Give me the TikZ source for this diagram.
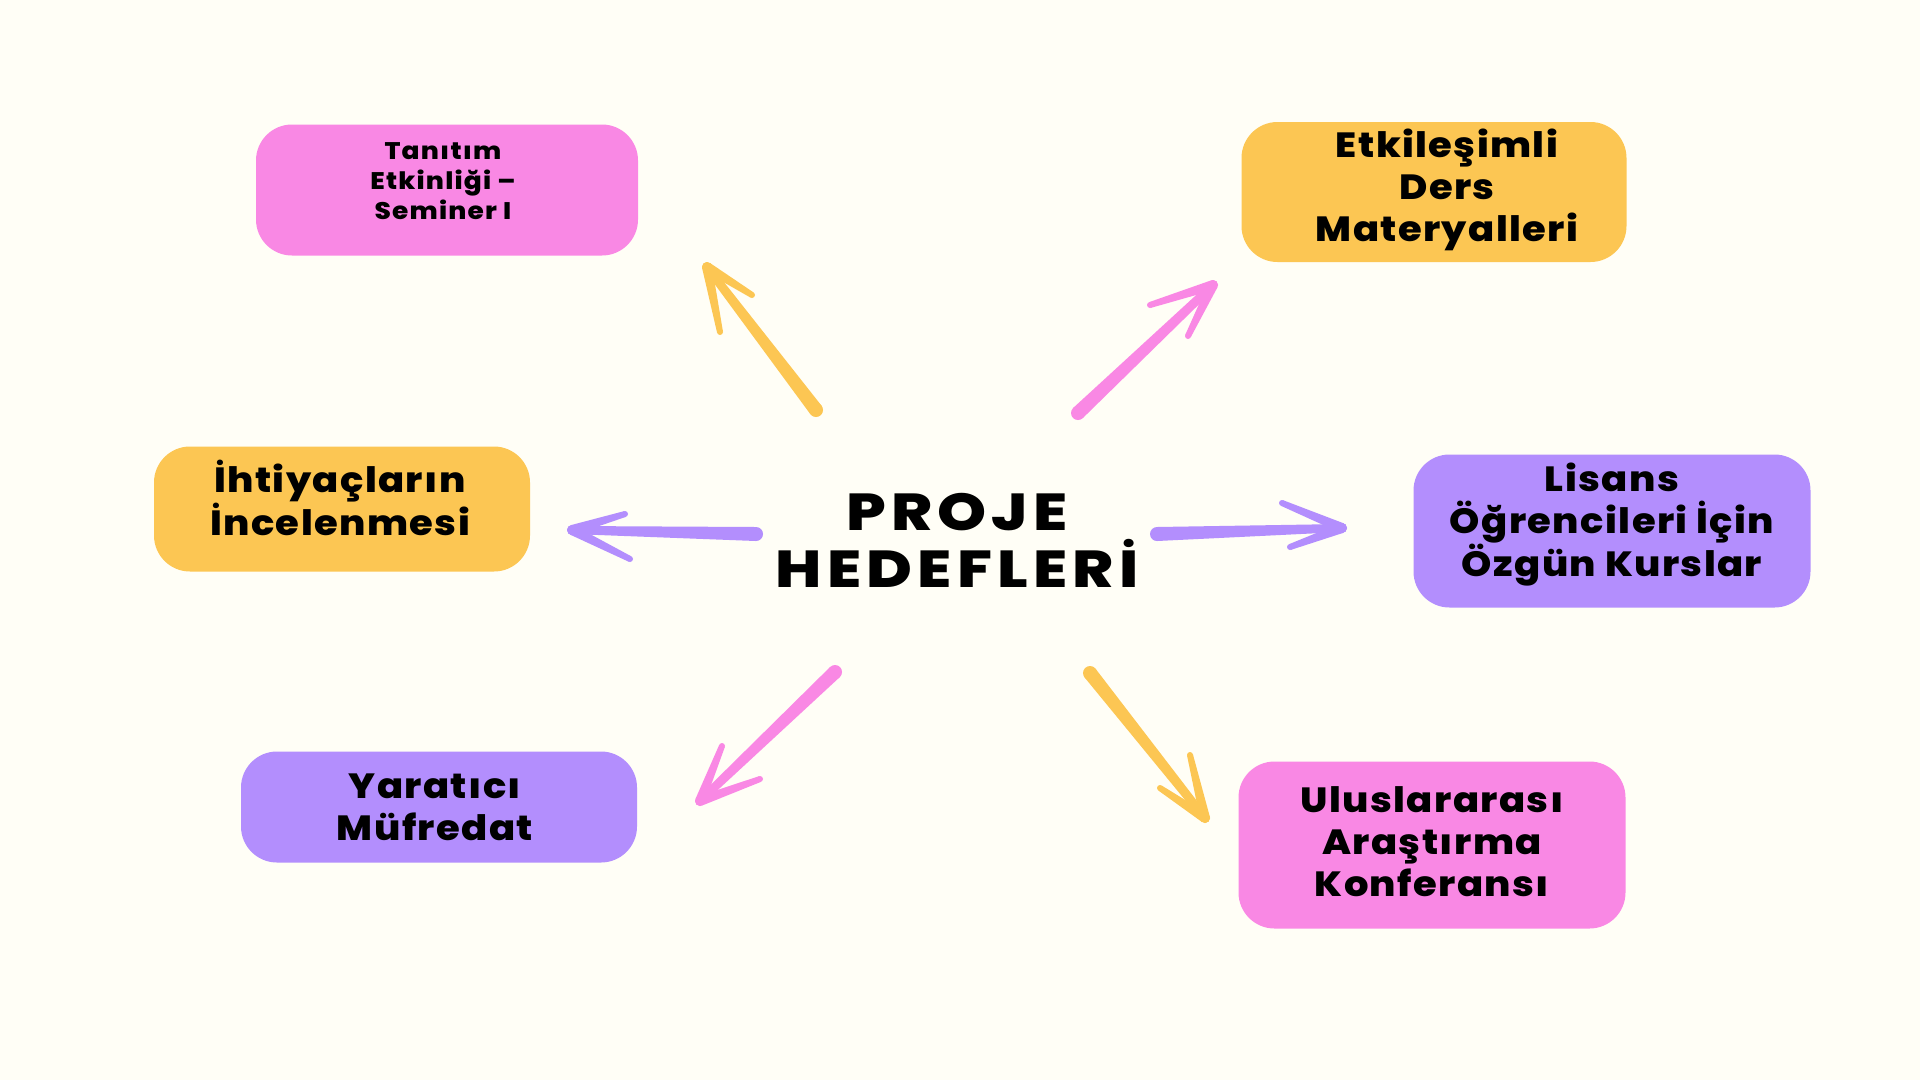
\documentclass[tikz,border=0pt]{standalone}
\usepackage{fontspec}
\setmainfont{Poppins}[BoldFont={Poppins ExtraBold}]
\usetikzlibrary{calc}

\definecolor{bgcream}{HTML}{FFFEF6}
\definecolor{goalpink}{HTML}{F988E4}
\definecolor{goalyellow}{HTML}{FCC653}
\definecolor{goalpurple}{HTML}{B38EFD}

% tapered hand drawn stroke: colour, start, end, start width, end width
\newcommand{\taperline}[5]{%
  \fill[#1] ($(#2)!#4!90:(#3)$) -- ($(#3)!#5!-90:(#2)$) -- ($(#3)!#5!90:(#2)$) -- ($(#2)!#4!-90:(#3)$) -- cycle;
  \fill[#1] (#2) circle (#4);
  \fill[#1] (#3) circle (#5);
}
% shaft plus two barbs
\newcommand{\sketcharrow}[5]{%
  \taperline{#1}{#2}{#3}{7pt}{4pt}
  \taperline{#1}{#3}{#4}{5pt}{3pt}
  \taperline{#1}{#3}{#5}{5pt}{3pt}
}

\tikzset{
  goal/.style={fill=#1, rounded corners=36pt, inner sep=0pt},
  goaltext/.style={align=center, inner sep=0pt,
    font=\bfseries\fontsize{35}{42}\selectfont\addfontfeatures{FakeStretch=1.1,LetterSpace=4}},
  hub/.style={align=center, inner sep=0pt,
    font=\bfseries\fontsize{52}{57}\selectfont\addfontfeatures{FakeStretch=1.2,LetterSpace=10}}
}

\begin{document}
\begin{tikzpicture}[x=1pt, y=-1pt]
\useasboundingbox (0,0) rectangle (1920,1080);
\fill[bgcream] (0,0) rectangle (1920,1080);

% centre
\node[hub] (hedef) at (957,540) {PROJE\\HEDEFLERİ};

% goal boxes
\node[goal=goalpink, minimum width=382pt, minimum height=131pt] (tanitim) at (447,190) {};
\node[goal=goalyellow, minimum width=385pt, minimum height=140pt] (ders) at (1434,192) {};
\node[goal=goalyellow, minimum width=376pt, minimum height=125pt] (ihtiyac) at (342,509) {};
\node[goal=goalpurple, minimum width=397pt, minimum height=153pt] (lisans) at (1612,531) {};
\node[goal=goalpurple, minimum width=396pt, minimum height=111pt] (mufredat) at (439,807) {};
\node[goal=goalpink, minimum width=387pt, minimum height=167pt] (konferans) at (1432,845) {};

% goal texts
\node[goaltext, font=\bfseries\fontsize{24}{30}\selectfont\addfontfeatures{FakeStretch=1.1,LetterSpace=5}]
  (tanitim-t) at ($(tanitim)+(-4,-9)$) {Tanıtım\\Etkinliği --\\Seminer I};
\node[goaltext] (ders-t) at ($(ders)+(13,-2)$) {Etkileşimli\\Ders\\Materyalleri};
\node[goaltext] (ihtiyac-t) at ($(ihtiyac)+(-2,-11)$) {İhtiyaçların\\İncelenmesi};
\node[goaltext] (lisans-t) at ($(lisans)+(0,-6)$) {Lisans\\Öğrencileri İçin\\Özgün Kurslar};
\node[goaltext] (mufredat-t) at ($(mufredat)+(-4,0)$) {Yaratıcı\\Müfredat};
\node[goaltext] (konferans-t) at ($(konferans)+(0,-3)$) {Uluslararası\\Araştırma\\Konferansı};

% arrow ends
\coordinate (ulT) at (816,410); \coordinate (ulH) at (707,267);
\coordinate (ulA) at (752,295); \coordinate (ulB) at (720,332);
\coordinate (urT) at (1078,413); \coordinate (urH) at (1213,285);
\coordinate (urA) at (1150,305); \coordinate (urB) at (1188,336);
\coordinate (lT) at (756,534); \coordinate (lH) at (572,530);
\coordinate (lA) at (625,514); \coordinate (lB) at (630,559);
\coordinate (rT) at (1157,534); \coordinate (rH) at (1342,528);
\coordinate (rA) at (1282,503); \coordinate (rB) at (1290,547);
\coordinate (dlT) at (835,672); \coordinate (dlH) at (700,801);
\coordinate (dlA) at (722,746); \coordinate (dlB) at (760,779);
\coordinate (drT) at (1090,673); \coordinate (drH) at (1205,818);
\coordinate (drA) at (1190,755); \coordinate (drB) at (1160,788);

\sketcharrow{goalyellow}{ulT}{ulH}{ulA}{ulB}
\sketcharrow{goalpink}{urT}{urH}{urA}{urB}
\sketcharrow{goalpurple}{lT}{lH}{lA}{lB}
\sketcharrow{goalpurple}{rT}{rH}{rA}{rB}
\sketcharrow{goalpink}{dlT}{dlH}{dlA}{dlB}
\sketcharrow{goalyellow}{drT}{drH}{drA}{drB}
\end{tikzpicture}
\end{document}
